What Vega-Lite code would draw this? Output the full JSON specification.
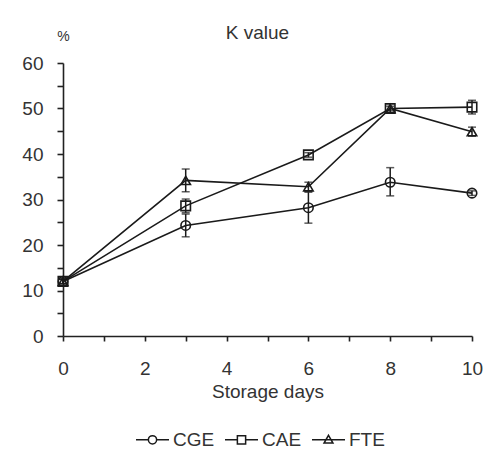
{
  "$schema": "https://vega.github.io/schema/vega-lite/v6.json",
  "autosize": "none",
  "width": 409,
  "height": 273,
  "padding": {"left": 63, "top": 63, "right": 19, "bottom": 119},
  "background": "white",
  "title": {"text": "K value", "fontSize": 19, "font": "Liberation Sans", "fontWeight": "normal", "color": "#333", "anchor": "middle", "dx": -10, "offset": -14},
  "config": {
    "view": {"stroke": null},
    "font": "Liberation Sans",
    "axis": {"domainColor": "#222", "tickColor": "#222", "domainWidth": 1.6, "tickWidth": 1.6, "labelColor": "#333", "labelFontSize": 19, "titleColor": "#333", "titleFontWeight": "normal", "grid": false, "labelFont": "Liberation Sans", "titleFont": "Liberation Sans"},
    "legend": {"labelFont": "Liberation Sans"}
  },
  "data": {"values": [
    {"day": 0, "series": "CGE", "value": 12, "lo": 11.5, "hi": 12.5},
    {"day": 3, "series": "CGE", "value": 24.3, "lo": 21.8, "hi": 26.8},
    {"day": 6, "series": "CGE", "value": 28.2, "lo": 24.8, "hi": 31.6},
    {"day": 8, "series": "CGE", "value": 33.8, "lo": 30.8, "hi": 37},
    {"day": 10, "series": "CGE", "value": 31.4, "lo": 30.9, "hi": 31.9},
    {"day": 0, "series": "CAE", "value": 12, "lo": 11.5, "hi": 12.5},
    {"day": 3, "series": "CAE", "value": 28.6, "lo": 27.1, "hi": 30.1},
    {"day": 6, "series": "CAE", "value": 39.8, "lo": 39.3, "hi": 40.3},
    {"day": 8, "series": "CAE", "value": 50, "lo": 49.5, "hi": 50.5},
    {"day": 10, "series": "CAE", "value": 50.3, "lo": 48.8, "hi": 51.8},
    {"day": 0, "series": "FTE", "value": 12, "lo": 11.5, "hi": 12.5},
    {"day": 3, "series": "FTE", "value": 34.2, "lo": 31.7, "hi": 36.7},
    {"day": 6, "series": "FTE", "value": 32.8, "lo": 31.8, "hi": 33.8},
    {"day": 8, "series": "FTE", "value": 50, "lo": 49, "hi": 51},
    {"day": 10, "series": "FTE", "value": 44.9, "lo": 43.9, "hi": 45.9}
  ]},
  "encoding": {
    "x": {"field": "day", "type": "quantitative", "scale": {"domain": [0, 10], "nice": false, "zero": false},
      "axis": {"title": "Storage days", "titleFontSize": 19, "titlePadding": 4, "values": [0,1,2,3,4,5,6,7,8,9,10], "labelExpr": "datum.value % 2 === 0 ? datum.label : ''", "tickSize": 5, "labelPadding": 18, "labelFlush": false}},
    "y": {"field": "value", "type": "quantitative", "scale": {"domain": [0, 60], "nice": false},
      "axis": {"title": "%", "titleAngle": 0, "titleX": 0, "titleY": -23, "titleAlign": "center", "titleBaseline": "alphabetic", "titleFontSize": 14, "values": [0,5,10,15,20,25,30,35,40,45,50,55,60], "labelExpr": "datum.value % 10 === 0 ? datum.label : ''", "tickSize": 6, "labelPadding": 14}}
  },
  "layer": [
    {"mark": {"type": "line", "color": "#1a1a1a", "strokeWidth": 1.6}, "encoding": {"detail": {"field": "series"}}},
    {"mark": {"type": "rule", "color": "#1a1a1a", "strokeWidth": 1.5}, "encoding": {"y": {"field": "lo", "type": "quantitative"}, "y2": {"field": "hi"}}},
    {"mark": {"type": "tick", "color": "#1a1a1a", "orient": "horizontal", "size": 8, "thickness": 1.5}, "encoding": {"y": {"field": "lo", "type": "quantitative"}}},
    {"mark": {"type": "tick", "color": "#1a1a1a", "orient": "horizontal", "size": 8, "thickness": 1.5}, "encoding": {"y": {"field": "hi", "type": "quantitative"}}},
    {"mark": {"type": "point", "filled": false, "color": "#1a1a1a", "strokeWidth": 1.6, "size": 90, "opacity": 1},
      "encoding": {"shape": {"field": "series", "type": "nominal",
        "scale": {"domain": ["CGE", "CAE", "FTE"], "range": ["circle", "square", "triangle-up"]}, "legend": null}}},
    {"mark": {"type": "point", "filled": false, "color": "#1a1a1a", "strokeWidth": 1.5, "size": 1089, "opacity": 0},
      "encoding": {"shape": {"field": "series", "type": "nominal",
        "scale": {"domain": ["CGE", "CAE", "FTE"], "range": [
          "M-1,0L-0.25,0M0.25,0L1,0M-0.25,0A0.25,0.25,0,1,1,0.25,0A0.25,0.25,0,1,1,-0.25,0",
          "M-1,0L-0.25,0M0.25,0L1,0M-0.25,-0.25L0.25,-0.25L0.25,0.25L-0.25,0.25Z",
          "M-1,0L1,0M0,-0.27L0.27,0.2L-0.27,0.2Z"]},
        "legend": {"title": null, "orient": "none", "direction": "horizontal", "legendX": 72, "legendY": 359,
          "labelFontSize": 19, "labelColor": "#333", "symbolSize": 1089, "symbolOpacity": 1, "symbolStrokeColor": "#1a1a1a", "symbolStrokeWidth": 1.5, "symbolFillColor": "transparent", "labelOffset": 3, "columnPadding": 7}}}}
  ],
  "resolve": {"scale": {"shape": "independent"}, "legend": {"shape": "independent"}}
}
